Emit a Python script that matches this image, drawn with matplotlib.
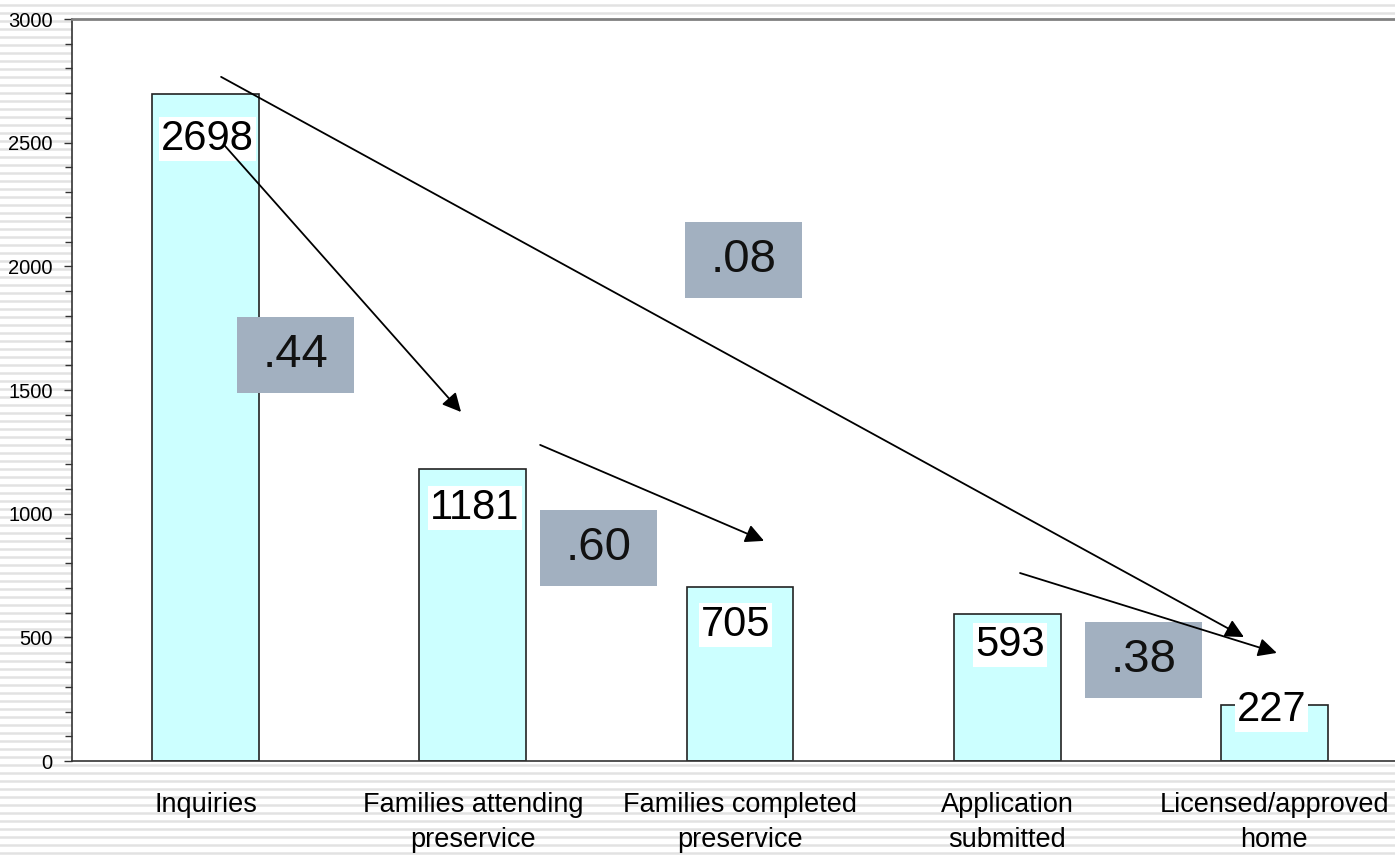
import numpy as np
import matplotlib
matplotlib.use('Agg')
import matplotlib.pyplot as plt
from matplotlib.lines import Line2D
from matplotlib.patches import Rectangle

plt.rcParams['font.family'] = ['Liberation Sans', 'DejaVu Sans']

# Data
stages = ['Inquiries', 'Families attending\npreservice', 'Families completed\npreservice',
          'Application\nsubmitted', 'Licensed/approved\nhome']
counts = [2698, 1181, 705, 593, 227]

# conversion ratios shown in grey boxes: (text, x in category units, y in data units)
ratio_text = ['.44', '.08', '.60', '.38']
ratio_x = [0.337, 2.013, 1.472, 3.510]
ratio_y = [1640, 2026, 861, 408]

# arrows (start x, start y) -> (end x, end y)
arrow_x0 = [0.058, 0.069, 1.252, 3.048]
arrow_y0 = [2766, 2491, 1278, 760]
arrow_x1 = [3.886, 0.956, 2.090, 4.009]
arrow_y1 = [501, 1411, 890, 437]

# label placement below the bar top (pixels) and small horizontal shift
label_dy = [45, 39, 38, 31, 5]
label_dx = [1.5, 2, -4.5, 3, -3]

fig = plt.figure(figsize=(13.95, 8.55), dpi=100)
fig.patch.set_facecolor('white')

# striped background
for yy in np.arange(0.002, 1.0, 8 / 855):
    fig.add_artist(Line2D([0, 1], [yy, yy], transform=fig.transFigure,
                          color='#e2e2e2', lw=1.8, zorder=-5))

ax = fig.add_axes([72 / 1395, 94 / 855, 1336 / 1395, 742 / 855])
ax.set_facecolor('white')

x = np.arange(len(counts))
ax.bar(x, counts, width=0.4, color='#ccffff', edgecolor='#222222', linewidth=1.2, zorder=2)

ax.set_xlim(-0.5, 4.5)
ax.set_ylim(0, 3000)
ax.set_yticks(np.arange(0, 3001, 500))
ax.set_yticks(np.arange(0, 3001, 100), minor=True)
ax.tick_params(axis='y', which='major', length=6, width=1, color='#333333', labelsize=14.5, pad=8)
ax.tick_params(axis='y', which='minor', length=5, width=1, color='#333333')
ax.set_xticks(x)
ax.set_xticklabels(stages, fontsize=19.5, linespacing=1.45)
ax.tick_params(axis='x', length=0, pad=22)

for s in ['left', 'bottom']:
    ax.spines[s].set_color('#333333')
    ax.spines[s].set_linewidth(1.2)
ax.spines['top'].set_color('#808080')
ax.spines['top'].set_linewidth(2)
ax.spines['right'].set_visible(False)

# value labels inside bars
for i, v in enumerate(counts):
    ax.annotate(str(v), xy=(x[i], v), xytext=(label_dx[i] * 0.72, -label_dy[i] * 0.72),
                textcoords='offset points', ha='center', va='center', fontsize=30, zorder=5,
                bbox=dict(boxstyle='square,pad=0.05', fc='white', ec='none'))

# ratio boxes
bw = 117 / 267.25
bh = 76 * 3000 / 742
for t, rx, ry in zip(ratio_text, ratio_x, ratio_y):
    ax.add_patch(Rectangle((rx - bw / 2, ry - bh / 2), bw, bh, facecolor='#a2b0c0',
                           edgecolor='none', zorder=6))
    ax.text(rx, ry, t, ha='center', va='center', fontsize=34, color='#111111', zorder=7)

# arrows drawn on top of everything
for i in range(len(arrow_x0)):
    ax.annotate('', xy=(arrow_x1[i], arrow_y1[i]), xytext=(arrow_x0[i], arrow_y0[i]),
                arrowprops=dict(arrowstyle='-|>', color='black', lw=1.3,
                                mutation_scale=28, shrinkA=0, shrinkB=0), zorder=8)

fig.savefig('out.png', dpi=100, facecolor='white')
